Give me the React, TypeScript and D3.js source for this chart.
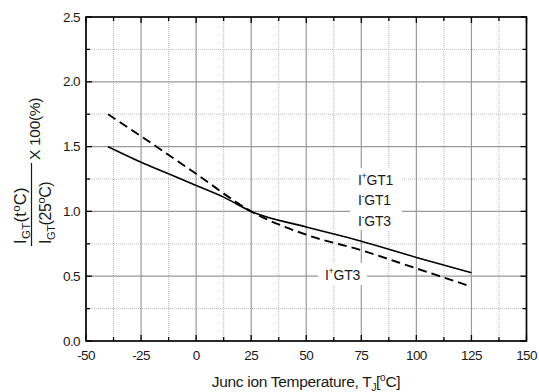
import React from "react";
import * as d3 from "d3";

const solidTemps = [-40, -25, -12.5, 0, 12.5, 25, 50, 75, 100, 125];
const solidValues = [1.5, 1.38, 1.29, 1.2, 1.11, 1.0, 0.88, 0.77, 0.645, 0.527];
const dashedTemps = [-40, -25, 0, 25, 50, 75, 100, 124];
const dashedValues = [1.75, 1.58, 1.29, 1.0, 0.82, 0.7, 0.56, 0.425];
const xTicks = [-50, -25, 0, 25, 50, 75, 100, 125, 150];
const yTicks = [0.0, 0.5, 1.0, 1.5, 2.0, 2.5];

const W = 539, H = 392;
const L = 86, R = 526.5, T = 17, B = 341;
const FONT = "'Liberation Sans', Arial, sans-serif";

export default function App() {
  const x = d3.scaleLinear().domain([-50, 150]).range([L, R]);
  const y = d3.scaleLinear().domain([0, 2.5]).range([B, T]);
  const line = d3.line<[number, number]>().x(d => x(d[0])).y(d => y(d[1])).curve(d3.curveMonotoneX);
  const solid = line(solidTemps.map((t, i) => [t, solidValues[i]] as [number, number]))!;
  const dashed = line(dashedTemps.map((t, i) => [t, dashedValues[i]] as [number, number]))!;
  const xMinor = d3.range(-50, 150.01, 12.5);
  const yMinor = d3.range(0, 2.501, 0.25);
  const isMajorX = (v: number) => Math.abs(v % 25) < 1e-6;
  const isMajorY = (v: number) => Math.abs((v * 2) - Math.round(v * 2)) < 1e-6;
  const tc = "#1a1a1a";
  return (
    <svg width={W} height={H} style={{ position: "absolute", left: 0, top: 0 }} fontFamily={FONT}>
      <rect x={0} y={0} width={W} height={H} fill="#fff" />
      {/* minor grid */}
      {xMinor.filter(v => !isMajorX(v)).map(v => (
        <line key={"xm" + v} x1={x(v)} x2={x(v)} y1={T} y2={B} stroke="#bbb" strokeWidth={1} strokeDasharray="1,1" />
      ))}
      {yMinor.filter(v => !isMajorY(v)).map(v => (
        <line key={"ym" + v} x1={L} x2={R} y1={y(v)} y2={y(v)} stroke="#bbb" strokeWidth={1} strokeDasharray="1,1" />
      ))}
      {/* major grid */}
      {xTicks.map(v => (
        <line key={"xg" + v} x1={x(v)} x2={x(v)} y1={T} y2={B} stroke="#9a9a9a" strokeWidth={1.2} />
      ))}
      {yTicks.map(v => (
        <line key={"yg" + v} x1={L} x2={R} y1={y(v)} y2={y(v)} stroke="#9a9a9a" strokeWidth={1.2} />
      ))}
      {/* label backgrounds */}
      <rect x={350} y={168} width={52} height={62} fill="#fff" />
      <rect x={318} y={263} width={49} height={22} fill="#fff" />
      {/* curves */}
      <path d={solid} fill="none" stroke="#000" strokeWidth={1.6} />
      <path d={dashed} fill="none" stroke="#000" strokeWidth={1.9} strokeDasharray="9,5" />
      {/* ticks */}
      {xMinor.map(v => {
        const len = isMajorX(v) ? 6 : 4;
        return (
          <g key={"xt" + v}>
            <line x1={x(v)} x2={x(v)} y1={B} y2={B - len} stroke="#000" strokeWidth={1.3} />
            <line x1={x(v)} x2={x(v)} y1={T} y2={T + len} stroke="#000" strokeWidth={1.3} />
          </g>
        );
      })}
      {yMinor.map(v => {
        const len = isMajorY(v) ? 6 : 4;
        return (
          <g key={"yt" + v}>
            <line x1={L} x2={L + len} y1={y(v)} y2={y(v)} stroke="#000" strokeWidth={1.3} />
            <line x1={R} x2={R - len} y1={y(v)} y2={y(v)} stroke="#000" strokeWidth={1.3} />
          </g>
        );
      })}
      {/* frame */}
      <rect x={L} y={T} width={R - L} height={B - T} fill="none" stroke="#000" strokeWidth={1.6} />
      {/* tick labels */}
      {xTicks.map(v => (
        <text key={"xl" + v} x={x(v)} y={360} textAnchor="middle" fontSize={13.5} fill={tc} letterSpacing={-0.6}>{String(v)}</text>
      ))}
      {yTicks.map(v => (
        <text key={"yl" + v} x={80} y={y(v) + 4.5} textAnchor="end" fontSize={13.5} fill={tc} letterSpacing={-0.6}>{v.toFixed(1)}</text>
      ))}
      {/* x axis title */}
      <text x={306} y={387} textAnchor="middle" fontSize={15.5} fill={tc} letterSpacing={-0.3}>
        Junc ion Temperature, T<tspan fontSize={10} dy={4}>J</tspan><tspan dy={-4}>[</tspan><tspan fontSize={10} dy={-6}>o</tspan><tspan dy={6}>C]</tspan>
      </text>
      {/* y axis title */}
      <g>
        <text transform="translate(26,244) rotate(-90)" fontSize={16.5} fill={tc} letterSpacing={0.3}>
          I<tspan fontSize={11.5} dy={4}>GT</tspan><tspan dy={-4}>(t</tspan><tspan fontSize={11.5} dy={-6}>o</tspan><tspan dy={6}>C)</tspan>
        </text>
        <line x1={31.5} x2={31.5} y1={246} y2={163} stroke={tc} strokeWidth={1.2} />
        <text transform="translate(51,244) rotate(-90)" fontSize={16} fill={tc} letterSpacing={-0.4}>
          I<tspan fontSize={11} dy={4}>GT</tspan><tspan dy={-4}>(25</tspan><tspan fontSize={11} dy={-6}>o</tspan><tspan dy={6}>C)</tspan>
        </text>
        <text transform="translate(40,160) rotate(-90)" fontSize={15.5} fill={tc} letterSpacing={-0.3}>X 100(%)</text>
      </g>
      {/* series labels */}
      <g fontSize={14} fill={tc} letterSpacing={-0.3}>
        <text x={358} y={185}>I<tspan fontSize={9} dy={-6}>+</tspan><tspan dy={6}>GT1</tspan></text>
        <text x={358} y={205}>I<tspan fontSize={9} dy={-6}>-</tspan><tspan dy={6}>GT1</tspan></text>
        <text x={358} y={226}>I<tspan fontSize={9} dy={-6}>-</tspan><tspan dy={6}>GT3</tspan></text>
        <text x={325} y={280}>I<tspan fontSize={9} dy={-6}>+</tspan><tspan dy={6}>GT3</tspan></text>
      </g>
    </svg>
  );
}
